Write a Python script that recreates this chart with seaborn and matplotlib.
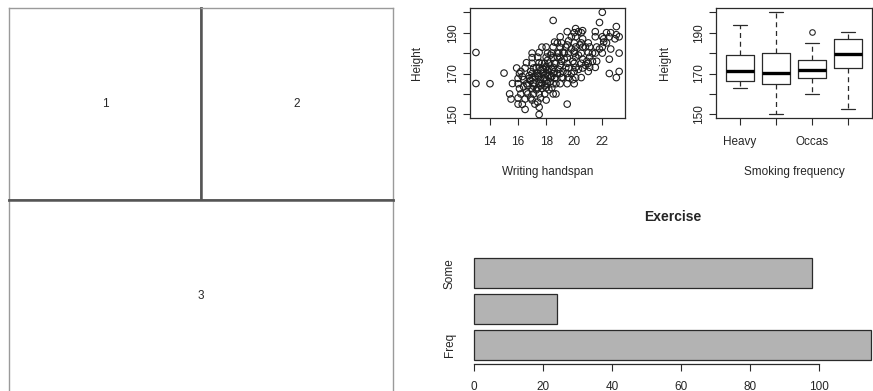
import matplotlib
matplotlib.use('Agg')
import matplotlib.pyplot as plt
import seaborn as sns

W, H = 873, 391

# handspan vs height
handspan = [13.0, 13.0, 14.0, 15.0, 15.4, 15.5, 15.6,
            15.9, 16.0, 16.0, 16.1, 16.0, 16.0, 16.1,
            16.2, 16.3, 16.2, 16.4, 16.5, 16.4, 16.3,
            16.5, 16.6, 16.5, 16.6, 16.6,
            16.7, 16.8, 16.7, 16.9, 16.8, 16.9,
            17.0, 17.0, 17.1, 17.0, 17.0, 17.1, 17.0, 17.0, 17.1, 17.0, 16.9, 17.1,
            17.2, 17.3, 17.2, 17.3, 17.2, 17.3,
            17.5, 17.5, 17.4, 17.6, 17.5, 17.4, 17.5, 17.6, 17.5, 17.4, 17.6, 17.5, 17.5, 17.4, 17.5, 17.6, 17.4,
            17.7, 17.8, 17.7, 17.8, 17.7, 17.7, 17.8,
            18.0, 17.9, 18.0, 18.1, 18.0, 17.9, 18.0, 18.1, 18.0, 17.9, 18.0, 18.1, 18.0, 17.9, 18.1, 18.0, 18.1,
            18.2, 18.3, 18.2, 18.3, 18.2, 18.3,
            18.5, 18.4, 18.5, 18.6, 18.5, 18.4, 18.5, 18.6, 18.5, 18.4, 18.5, 18.6, 18.5, 18.4, 18.6,
            18.7, 18.8, 18.7, 18.8, 18.7, 18.8, 18.8,
            19.0, 19.1, 19.0, 18.9, 19.0, 19.1, 19.0, 18.9, 19.0, 19.1, 19.0, 19.2,
            19.2, 19.3, 19.3, 19.2,
            19.5, 19.4, 19.4,
            19.5, 19.6, 19.5, 19.6, 19.5, 19.5, 19.6, 19.5, 19.6, 19.5,
            19.8, 19.9, 19.8, 19.8, 19.9,
            20.0, 20.1, 20.0, 20.1, 20.0, 20.1, 20.0, 20.1, 20.0, 20.1, 20.0, 20.1, 20.0,
            20.3, 20.3, 20.4, 20.3,
            20.5, 20.6, 20.5, 20.6, 20.5, 20.6, 20.5, 20.6, 20.5, 20.6,
            20.8, 20.9, 20.8,
            21.0, 21.1, 21.0, 21.1, 21.0, 21.1, 21.0,
            21.3, 21.3,
            21.5, 21.6, 21.5, 21.6, 21.5, 21.5,
            21.8, 21.8,
            22.0, 22.0, 22.1, 22.0, 22.0, 22.1,
            22.3, 22.3,
            22.5, 22.5, 22.6, 22.5, 22.6,
            23.0, 22.9, 23.0, 23.0,
            23.2, 23.2, 23.2]
height = [180.3, 165.1, 165.0, 170.2, 160.0, 157.5, 165.1,
          172.7, 155.0, 167.6, 162.6, 158.0, 165.0, 170.0,
          171.0, 154.9, 160.0, 167.0, 152.4, 163.5, 168.5,
          157.5, 165.0, 172.7, 175.3, 161.0,
          160.0, 169.0, 164.0, 158.0, 167.6, 171.0,
          157.0, 162.6, 165.0, 168.0, 170.0, 172.7, 177.8, 180.0, 160.0, 175.0, 166.5, 163.8,
          165.0, 170.2, 155.0, 162.0, 168.5, 173.0,
          149.9, 153.5, 156.0, 158.0, 160.0, 163.0, 165.1, 167.0, 168.5, 170.0, 171.5, 173.0, 175.3, 178.0, 180.3, 164.0, 169.0,
          165.0, 170.0, 162.6, 167.6, 175.0, 182.9, 172.0,
          157.0, 160.0, 163.0, 165.0, 166.5, 168.0, 170.0, 171.5, 172.7, 175.0, 178.0, 180.0, 183.0, 164.0, 169.0, 173.5, 176.5,
          162.0, 168.0, 172.0, 166.0, 175.0, 179.0,
          160.0, 163.0, 165.0, 167.6, 170.0, 172.0, 173.0, 175.0, 177.8, 180.0, 183.0, 185.4, 196.0, 168.5, 171.0,
          160.0, 170.0, 175.0, 180.0, 165.0, 178.0, 185.0,
          165.0, 168.0, 170.0, 172.0, 174.0, 176.0, 178.0, 180.0, 182.9, 185.0, 188.0, 180.5,
          171.0, 177.0, 180.0, 168.0,
          155.0, 182.9, 173.0,
          165.0, 168.0, 170.0, 172.7, 175.0, 177.8, 180.0, 184.0, 186.0, 190.5,
          170.0, 176.0, 182.0, 188.0, 167.0,
          165.0, 168.0, 171.0, 173.0, 175.0, 178.0, 180.0, 183.0, 185.0, 188.0, 190.0, 192.0, 181.0,
          172.0, 179.0, 184.0, 190.5,
          168.0, 172.7, 175.0, 177.0, 180.0, 182.9, 185.0, 187.0, 190.0, 191.0,
          174.0, 176.0, 183.0,
          171.0, 173.0, 175.0, 178.0, 180.3, 183.0, 185.0,
          176.0, 180.0,
          173.0, 176.0, 180.0, 183.0, 188.0, 190.5,
          182.0, 195.0,
          180.0, 183.0, 185.4, 188.0, 200.0, 187.0,
          185.0, 190.0,
          170.0, 177.0, 182.0, 188.0, 190.0,
          168.0, 187.0, 193.0, 189.0,
          180.0, 171.0, 188.0]

# height by smoking frequency, five number summaries
smoke_levels = ['Heavy', 'Never', 'Occas', 'Regul']
smoke_ticklabels = ['Heavy', '', 'Occas', '']
smoke_whislo = [162.8, 150.0, 160.0, 152.5]
smoke_q1 = [166.4, 165.1, 168.0, 172.6]
smoke_med = [171.0, 170.3, 171.6, 179.8]
smoke_q3 = [179.2, 180.2, 176.6, 187.0]
smoke_whishi = [193.6, 200.0, 185.1, 190.3]
smoke_fliers = [[], [], [190.3], []]

# exercise counts
exercise = ['Freq', 'None', 'Some']
exercise_ticklabels = ['Freq', '', 'Some']
exercise_counts = [115, 24, 98]

sns.set_style('white')
plt.rcParams['font.family'] = ['Liberation Sans', 'DejaVu Sans']
plt.rcParams['font.size'] = 8.5

ink = '#2a2a2a'


def px_axes(fig, left, top, right, bottom):
    return fig.add_axes([left / W, 1 - bottom / H, (right - left) / W, (bottom - top) / H])


def r_frame(ax):
    for s in ax.spines.values():
        s.set_visible(True)
        s.set_color(ink)
        s.set_linewidth(0.9)
    ax.tick_params(direction='out', length=5, width=0.8, color=ink, labelsize=8.5,
                   left=True, bottom=True)
    ax.tick_params(axis='x', pad=7.5)
    ax.tick_params(axis='y', pad=3, labelrotation=90)
    for lbl in ax.get_yticklabels():
        lbl.set_va('center')


fig = plt.figure(figsize=(W / 100, H / 100), dpi=100)

# layout sketch on the left
regions = [(9.3, 8.3, 200.7, 200.0, '1', ['right', 'bottom']),
           (200.7, 8.3, 392.7, 200.0, '2', ['left', 'bottom']),
           (9.3, 200.0, 392.7, 391.7, '3', ['top'])]
for l, t, r, b, name, inner in regions:
    ax = px_axes(fig, l, t, r, b)
    ax.set_xticks([])
    ax.set_yticks([])
    for side, s in ax.spines.items():
        s.set_visible(True)
        if side in inner:
            s.set_color('#555555')
            s.set_linewidth(1.8)
        else:
            s.set_color('#9a9a9a')
            s.set_linewidth(1.0)
    ax.text(0.5, 0.5, name, transform=ax.transAxes, ha='center', va='center', fontsize=8.5)

# scatter
ax = px_axes(fig, 470.2, 8.2, 624.9, 118.4)
sns.scatterplot(x=handspan, y=height, ax=ax, marker='o', s=22, linewidth=0.8)
pts = ax.collections[0]
pts.set_facecolor('none')
pts.set_edgecolor('#1e1e1e')
ax.set_xlim(12.59, 23.61)
ax.set_ylim(148, 202)
ax.set_xticks([14, 16, 18, 20, 22])
ax.set_yticks([150, 160, 170, 180, 190, 200], ['150', '', '170', '', '190', ''])
r_frame(ax)
ax.set_xlabel('Writing handspan', fontsize=8.5)
ax.set_ylabel('Height', fontsize=8.5)
ax.xaxis.set_label_coords(0.5, -0.486)
ax.yaxis.set_label_coords(-0.344, 0.5)
ax.xaxis.label.set_va('center')
ax.yaxis.label.set_va('center')
ax.yaxis.label.set_ha('center')

# boxplot
ax = px_axes(fig, 716.2, 8.2, 871.8, 118.4)
stats = []
for i, lev in enumerate(smoke_levels):
    stats.append(dict(label=lev, whislo=smoke_whislo[i], q1=smoke_q1[i], med=smoke_med[i],
                      q3=smoke_q3[i], whishi=smoke_whishi[i], fliers=smoke_fliers[i]))
ax.bxp(stats, positions=[1, 2, 3, 4], widths=0.8, capwidths=0.4, showfliers=True,
       boxprops=dict(color=ink, linewidth=0.9),
       medianprops=dict(color='black', linewidth=2.4),
       whiskerprops=dict(color=ink, linewidth=0.9, linestyle=(0, (4, 3))),
       capprops=dict(color=ink, linewidth=0.9),
       flierprops=dict(marker='o', markerfacecolor='none', markeredgecolor=ink,
                       markersize=4, markeredgewidth=0.8))
ax.set_xlim(0.34, 4.66)
ax.set_ylim(148, 202)
ax.set_xticks([1, 2, 3, 4], smoke_ticklabels)
ax.set_yticks([150, 160, 170, 180, 190, 200], ['150', '', '170', '', '190', ''])
r_frame(ax)
ax.set_xlabel('Smoking frequency', fontsize=8.5)
ax.set_ylabel('Height', fontsize=8.5)
ax.xaxis.set_label_coords(0.5, -0.486)
ax.yaxis.set_label_coords(-0.329, 0.5)
ax.xaxis.label.set_va('center')
ax.yaxis.label.set_va('center')
ax.yaxis.label.set_ha('center')

# horizontal bars
ax = px_axes(fig, 458.4, 254.2, 886.9, 364.1)
order = exercise[::-1]
sns.barplot(x=exercise_counts, y=exercise, order=order, orient='h', color='#b3b3b3',
            saturation=1, edgecolor=ink, linewidth=0.9, width=0.833, ax=ax)
ax.set_xlim(-4.6, 119.6)
ax.set_ylim(2.53, -0.536)
ax.set_xticks([0, 20, 40, 60, 80, 100])
ax.set_yticks([0, 1, 2], exercise_ticklabels[::-1])
for side in ['top', 'right', 'left']:
    ax.spines[side].set_visible(False)
ax.spines['bottom'].set_bounds(0, 100)
ax.spines['bottom'].set_color(ink)
ax.spines['bottom'].set_linewidth(0.9)
ax.tick_params(axis='x', direction='out', length=5, width=0.8, color=ink, labelsize=8.5,
               pad=7.5, bottom=True)
ax.tick_params(axis='y', length=0, pad=2, labelsize=8.5, labelrotation=90)
for lbl in ax.get_yticklabels():
    lbl.set_va('center')
ax.set_xlabel('')
ax.set_ylabel('')
ax.set_title('Exercise', fontsize=10, fontweight='bold', y=1 + 29 / 109.9, va='center')

fig.savefig('out.png', dpi=100)
